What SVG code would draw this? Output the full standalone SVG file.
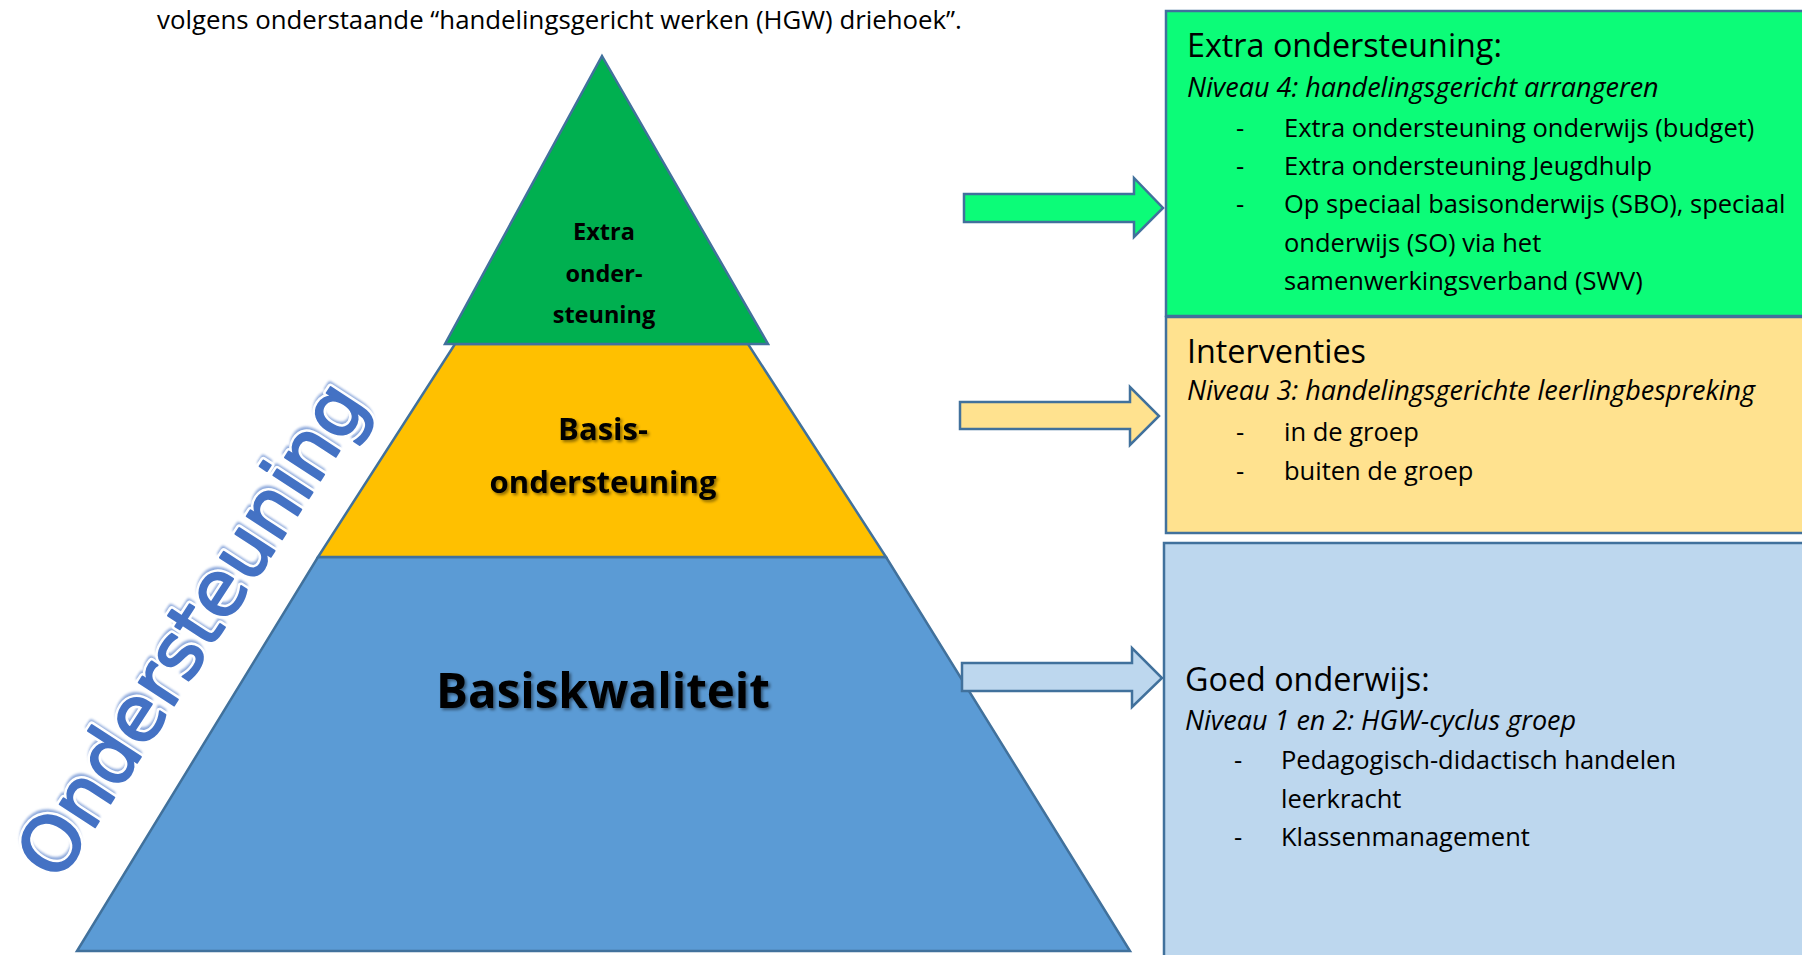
<svg xmlns="http://www.w3.org/2000/svg" width="1802" height="955" viewBox="0 0 1802 955">
<defs>
<style>
.body{font-family:"Open Sans","Noto Sans","Liberation Sans",sans-serif;font-size:25.5px;fill:#000}
.title{font-family:"Open Sans","Noto Sans","Liberation Sans",sans-serif;font-size:32.3px;fill:#000}
.ital{font-family:"Open Sans","Noto Sans","Liberation Sans",sans-serif;font-size:27px;font-style:italic;fill:#000}
.pyr{font-family:"Open Sans","Noto Sans","Liberation Sans",sans-serif;font-weight:bold;fill:#000;text-anchor:middle}
.shape{stroke:#41719C;stroke-width:2.5;stroke-linejoin:miter}
.box{stroke:#41719C;stroke-width:2.5}
.arrow{stroke:#41719C;stroke-width:2.5;stroke-linejoin:miter}
.word{font-family:"DejaVu Sans","Verdana",sans-serif;font-size:77px;text-anchor:middle;stroke-linejoin:round}
</style>
<filter id="tshadow" x="-10%" y="-30%" width="120%" height="160%">
<feDropShadow dx="2" dy="2" stdDeviation="1.5" flood-color="#000" flood-opacity="0.45"/>
</filter>
<filter id="wshadow" x="-10%" y="-10%" width="120%" height="120%">
<feGaussianBlur stdDeviation="0.8"/>
</filter>
</defs>
<rect width="1802" height="955" fill="#fff"/>

<g id="header">
<text x="157" y="29" style="font-family:'Open Sans','Noto Sans','Liberation Sans',sans-serif;font-size:25.8px;fill:#000">volgens onderstaande “handelingsgericht werken (HGW) driehoek”.</text>
</g>

<g id="pyramid-base">
<polygon class="shape" points="318,557 886,557 1130,951 77,951" fill="#5B9BD5"/>
<text class="pyr" x="603" y="708" font-size="47.5" filter="url(#tshadow)">Basiskwaliteit</text>
</g>
<g id="pyramid-mid">
<polygon class="shape" points="455,344 748,344 886,557 318,557" fill="#FFC000"/>
<text class="pyr" x="603" y="440" font-size="31" filter="url(#tshadow)">Basis-</text>
<text class="pyr" x="603" y="493" font-size="31" filter="url(#tshadow)">ondersteuning</text>
</g>
<g id="pyramid-top">
<polygon class="shape" points="602,56 768,344 445,344" fill="#00B050"/>
<text class="pyr" x="604" y="240" font-size="23.5">Extra</text>
<text class="pyr" x="604" y="282" font-size="23.5">onder-</text>
<text class="pyr" x="604" y="323" font-size="23.5">steuning</text>
</g>

<g id="label-ondersteuning">
<g transform="translate(214,644) rotate(-57)">
<text class="word" x="3" y="-3" fill="#8FAADC" stroke="#8FAADC" stroke-width="4" filter="url(#wshadow)">Ondersteuning</text>
<text class="word" x="0" y="0" fill="#ffffff" stroke="#ffffff" stroke-width="7">Ondersteuning</text>
<text class="word" x="0" y="0" fill="#4472C4" stroke="#4472C4" stroke-width="2">Ondersteuning</text>
</g>
</g>

<g id="box-extra">
<rect class="box" x="1166" y="11" width="650" height="305" fill="#0CFC78"/>
<text class="title" x="1187" y="57">Extra ondersteuning:</text>
<text class="ital" x="1187" y="97">Niveau 4: handelingsgericht arrangeren</text>
<text class="body" x="1236" y="137">-</text>
<text class="body" x="1284" y="137">Extra ondersteuning onderwijs (budget)</text>
<text class="body" x="1236" y="175">-</text>
<text class="body" x="1284" y="175">Extra ondersteuning Jeugdhulp</text>
<text class="body" x="1236" y="213">-</text>
<text class="body" x="1284" y="213">Op speciaal basisonderwijs (SBO), speciaal</text>
<text class="body" x="1284" y="252">onderwijs (SO) via het</text>
<text class="body" x="1284" y="290">samenwerkingsverband (SWV)</text>
</g>

<g id="box-interventies">
<rect class="box" x="1166" y="317" width="650" height="216" fill="#FFE28F"/>
<text class="title" x="1187" y="363">Interventies</text>
<text class="ital" x="1187" y="400">Niveau 3: handelingsgerichte leerlingbespreking</text>
<text class="body" x="1236" y="441">-</text>
<text class="body" x="1284" y="441">in de groep</text>
<text class="body" x="1236" y="480">-</text>
<text class="body" x="1284" y="480">buiten de groep</text>
</g>

<g id="box-goed">
<rect class="box" x="1164" y="543" width="650" height="430" fill="#BDD7EE"/>
<text class="title" x="1185" y="691">Goed onderwijs:</text>
<text class="ital" x="1185" y="730">Niveau 1 en 2: HGW-cyclus groep</text>
<text class="body" x="1234" y="769">-</text>
<text class="body" x="1281" y="769">Pedagogisch-didactisch handelen</text>
<text class="body" x="1281" y="808">leerkracht</text>
<text class="body" x="1234" y="846">-</text>
<text class="body" x="1281" y="846">Klassenmanagement</text>
</g>

<g id="connectors">
<polygon class="arrow" points="964,194 1134,194 1134,178 1163,208 1134,237 1134,222 964,222" fill="#0CFC78"/>
<polygon class="arrow" points="960,402 1130,402 1130,387 1159,416 1130,445 1130,429 960,429" fill="#FFE28F"/>
<polygon class="arrow" points="962,663 1132,663 1132,648 1162,678 1132,707 1132,691 962,691" fill="#BDD7EE"/>
</g>
</svg>
